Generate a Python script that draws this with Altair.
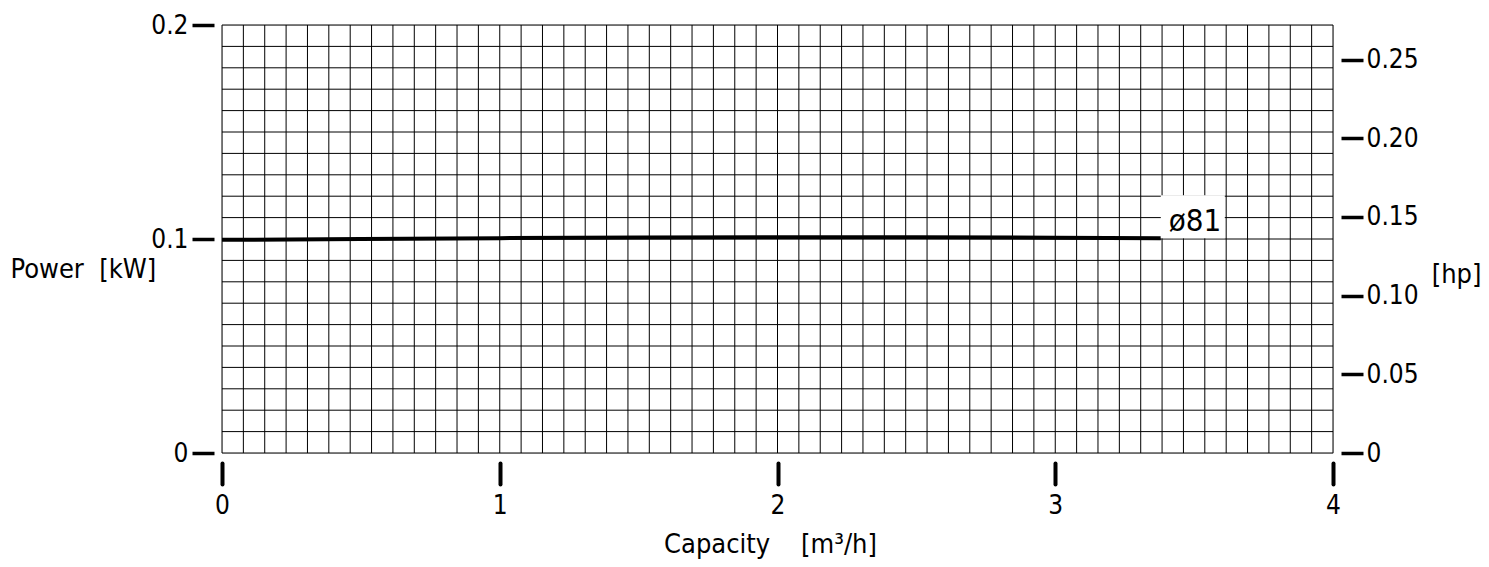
import altair as alt
import pandas as pd

# ---- data ----
capacity = [0.0, 0.5, 1.0, 1.5, 2.0, 2.5, 3.0, 3.38]
power_kw = [0.0996, 0.1000, 0.1004, 0.1007, 0.1008, 0.1008, 0.1006, 0.1004]
curve_label = ["ø81"]
x_ticks = [0, 1, 2, 3, 4]
y_ticks_kw = [0, 0.1, 0.2]
y_ticks_hp = [0, 0.05, 0.10, 0.15, 0.20, 0.25]
grid_x = [i * 4 / 52 for i in range(53)]
grid_y = [i * 0.01 for i in range(21)]
KW_TO_HP = 1.36

FONT = "DejaVu Sans Condensed, Liberation Sans, sans-serif"
W, H = 1111, 428

curve = pd.DataFrame({"q": capacity, "p": power_kw})
gx = pd.DataFrame({"gx": grid_x})
gy = pd.DataFrame({"gy": grid_y})
lab = pd.DataFrame({"q": [capacity[-1]], "p": [power_kw[-1]], "t": curve_label})
hp = pd.DataFrame({"hp": y_ticks_hp})

xscale = alt.Scale(domain=[0, 4], nice=False, zero=False)
yscale = alt.Scale(domain=[0, 0.2], nice=False, zero=False)

x_axis = alt.Axis(
    values=x_ticks, domain=False, grid=False, offset=10,
    tickSize=21, tickWidth=4, tickColor="black", tickCap="round",
    labelPadding=8, labelFontSize=26, labelFont=FONT, labelColor="black",
    labelExpr="format(datum.value, 'd')",
    title="Capacity\u00a0\u00a0\u00a0\u00a0[m³/h]", titleFont=FONT, titleFontSize=27,
    titleFontWeight="normal", titleColor="black",
    titleX=548, titleY=89, titleAlign="center", titleBaseline="alphabetic",
    labelFlush=False,
)
y_axis = alt.Axis(
    values=y_ticks_kw, domain=False, grid=False, offset=8,
    tickSize=22, tickWidth=3.5, tickColor="black",
    labelPadding=4, labelFontSize=26, labelFont=FONT, labelColor="black",
    labelExpr="datum.value == 0 ? '0' : format(datum.value, '.1f')",
    title="Power\u00a0\u00a0[kW]", titleFont=FONT, titleFontSize=27,
    titleFontWeight="normal", titleColor="black", titleAngle=0,
    titleX=-204, titleY=252, titleAlign="left", titleBaseline="alphabetic",
    labelFlush=False,
)
hp_axis = alt.Axis(
    values=y_ticks_hp, domain=False, grid=False, offset=8, orient="right",
    tickSize=22, tickWidth=3.5, tickColor="black",
    labelPadding=3, labelFontSize=26, labelFont=FONT, labelColor="black",
    labelExpr="datum.value == 0 ? '0' : format(datum.value, '.2f')",
    title="[hp]", titleFont=FONT, titleFontSize=27,
    titleFontWeight="normal", titleColor="black", titleAngle=0,
    titleX=140, titleY=257, titleAlign="right", titleBaseline="alphabetic",
    labelFlush=False,
)

vgrid = alt.Chart(gx).mark_rule(color="black", strokeWidth=1).encode(
    x=alt.X("gx:Q", scale=xscale, axis=x_axis),
    y=alt.value(0), y2=alt.value(H),
)
hgrid = alt.Chart(gy).mark_rule(color="black", strokeWidth=1).encode(
    y=alt.Y("gy:Q", scale=yscale, axis=y_axis),
    x=alt.value(0), x2=alt.value(W),
)
line = alt.Chart(curve).mark_line(color="black", strokeWidth=4).encode(
    x=alt.X("q:Q", scale=xscale),
    y=alt.Y("p:Q", scale=yscale),
)
box = alt.Chart(lab).mark_rect(color="white", x2Offset=64, y2Offset=-43, yOffset=0).encode(
    x=alt.X("q:Q", scale=xscale), x2="q:Q",
    y=alt.Y("p:Q", scale=yscale), y2="p:Q",
)
txt = alt.Chart(lab).mark_text(
    font=FONT, fontSize=31, color="black", align="left", baseline="alphabetic", dx=8, dy=-7
).encode(
    x=alt.X("q:Q", scale=xscale),
    y=alt.Y("p:Q", scale=yscale),
    text="t:N",
)
left = alt.layer(vgrid, hgrid, line, box, txt)

right = alt.Chart(hp).mark_point(opacity=0).encode(
    y=alt.Y("hp:Q", scale=alt.Scale(domain=[0, 0.2 * KW_TO_HP], nice=False, zero=False), axis=hp_axis),
    x=alt.value(0),
)

chart = alt.layer(left, right).resolve_scale(y="independent").properties(
    width=W, height=H,
    autosize=alt.AutoSizeParams(type="none"),
    padding={"left": 214, "top": 17, "right": 148, "bottom": 106},
).configure_view(stroke=None).configure(background="white")

chart.save("out.html", embed_options={"renderer": "svg", "actions": False})
